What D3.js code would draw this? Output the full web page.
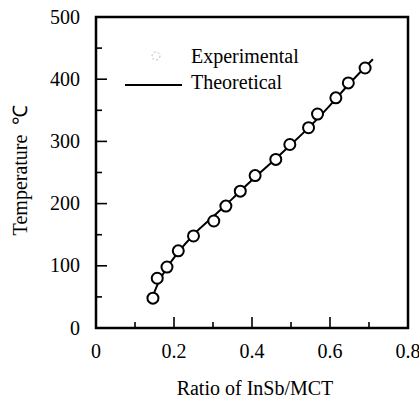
<!DOCTYPE html>
<html>
<head>
<meta charset="utf-8">
<script src="https://cdn.jsdelivr.net/npm/d3@7"></script>
<style>
  body { margin: 0; background: #fff; }
</style>
</head>
<body>
<div id="chart"></div>
<script>
// experimental points (ratio, temperature)
const expRatio = [0.146, 0.157, 0.182, 0.211, 0.250, 0.302, 0.333, 0.370, 0.408, 0.461, 0.497, 0.545, 0.568, 0.615, 0.647, 0.690];
const expTemp  = [48, 80, 98, 124, 148, 172, 196, 220, 245, 271, 295, 322, 344, 370, 394, 418];

// theoretical curve
const theoRatio = [0.145, 0.16, 0.18, 0.21, 0.25, 0.30, 0.35, 0.40, 0.45, 0.50, 0.55, 0.60, 0.65, 0.71];
const theoTemp  = [50, 73, 95, 121, 150, 179, 208, 238, 266, 295, 325, 358, 393, 432];

const xTicks = [0, 0.2, 0.4, 0.6, 0.8];
const yTicks = [0, 100, 200, 300, 400, 500];

const width = 419, height = 398;
const margin = { left: 96, top: 17, right: 11, bottom: 70 };

const svg = d3.select('#chart').append('svg')
    .attr('width', width)
    .attr('height', height)
    .attr('font-family', "'Liberation Serif', 'Times New Roman', Times, serif")
    .attr('font-size', 20)
    .attr('fill', '#000');

const x = d3.scaleLinear().domain([0, 0.8]).range([margin.left, width - margin.right]);
const y = d3.scaleLinear().domain([0, 500]).range([height - margin.bottom, margin.top]);

// inward ticks, major + minor
const xMinor = d3.range(0.1, 0.8, 0.2);
const yMinor = d3.range(50, 500, 100);

const ticks = svg.append('g').attr('stroke', '#000').attr('stroke-width', 1.6);
xTicks.slice(1, -1).forEach(t => {
    ticks.append('line').attr('x1', x(t)).attr('x2', x(t)).attr('y1', y(0)).attr('y2', y(0) - 11);
});
xMinor.forEach(t => {
    ticks.append('line').attr('x1', x(t)).attr('x2', x(t)).attr('y1', y(0)).attr('y2', y(0) - 6);
});
yTicks.slice(1, -1).forEach(t => {
    ticks.append('line').attr('x1', x(0)).attr('x2', x(0) + 11).attr('y1', y(t)).attr('y2', y(t));
});
yMinor.forEach(t => {
    ticks.append('line').attr('x1', x(0)).attr('x2', x(0) + 6).attr('y1', y(t)).attr('y2', y(t));
});

// frame
svg.append('rect')
    .attr('x', x(0)).attr('y', y(500))
    .attr('width', x(0.8) - x(0)).attr('height', y(0) - y(500))
    .attr('fill', 'none').attr('stroke', '#000').attr('stroke-width', 2.5);

// tick labels
svg.append('g').selectAll('text').data(xTicks).join('text')
    .attr('x', d => x(d)).attr('y', y(0) + 30)
    .attr('text-anchor', 'middle')
    .text(d => d === 0 ? '0' : d3.format('.1f')(d));

svg.append('g').selectAll('text').data(yTicks).join('text')
    .attr('x', x(0) - 16).attr('y', d => y(d) + 6.5)
    .attr('text-anchor', 'end')
    .text(d => d);

// axis titles
svg.append('text')
    .attr('x', 255).attr('y', 395)
    .attr('text-anchor', 'middle')
    .text('Ratio of InSb/MCT');

svg.append('text')
    .attr('transform', 'translate(27,170) rotate(-90)')
    .attr('text-anchor', 'middle')
    .text('Temperature \u00a0\u2103');

// theoretical line
const line = d3.line()
    .x(d => x(d[0]))
    .y(d => y(d[1]))
    .curve(d3.curveMonotoneX);

svg.append('path')
    .datum(d3.zip(theoRatio, theoTemp))
    .attr('d', line)
    .attr('fill', 'none')
    .attr('stroke', '#000')
    .attr('stroke-width', 2);

// experimental circles
svg.append('g').selectAll('circle').data(d3.zip(expRatio, expTemp)).join('circle')
    .attr('cx', d => x(d[0]))
    .attr('cy', d => y(d[1]))
    .attr('r', 5.5)
    .attr('fill', '#fff')
    .attr('stroke', '#000')
    .attr('stroke-width', 2);

// legend
svg.append('circle')
    .attr('cx', 156).attr('cy', 56).attr('r', 4)
    .attr('fill', 'none')
    .attr('stroke', '#bbb')
    .attr('stroke-width', 1)
    .attr('stroke-dasharray', '2,2');

svg.append('text')
    .attr('x', 191).attr('y', 63)
    .text('Experimental');

svg.append('line')
    .attr('x1', 125).attr('x2', 182)
    .attr('y1', 85).attr('y2', 85)
    .attr('stroke', '#000').attr('stroke-width', 2);

svg.append('text')
    .attr('x', 191).attr('y', 89)
    .text('Theoretical');
</script>
</body>
</html>
